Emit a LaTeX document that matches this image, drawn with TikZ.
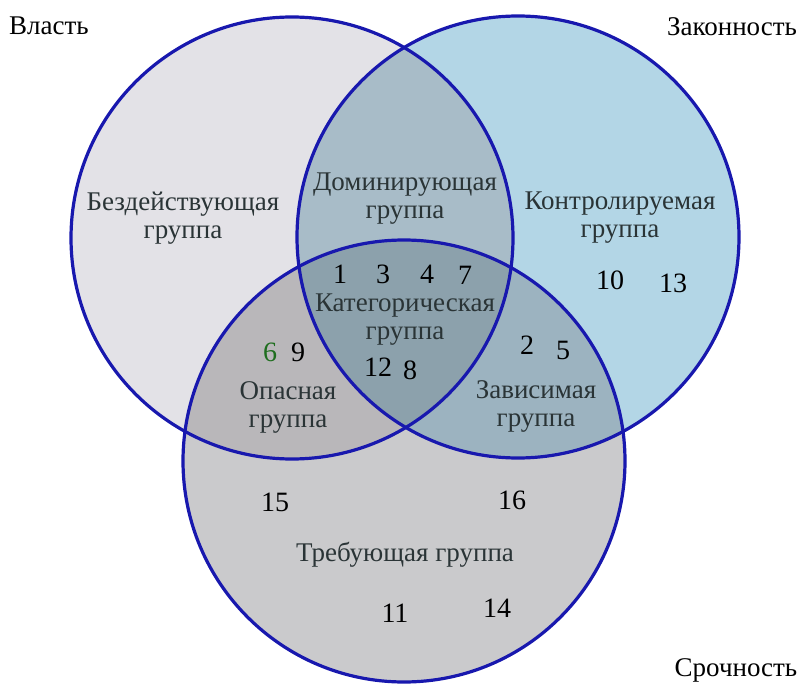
\documentclass[tikz,border=0pt]{standalone}
\usepackage{fontspec}
\setmainfont{Liberation Serif}
\definecolor{cL}{HTML}{E3E2E7}
\definecolor{cR}{HTML}{B3D6E6}
\definecolor{cB}{HTML}{CACACC}
\definecolor{cLR}{HTML}{A8BCC8}
\definecolor{cLB}{HTML}{B9B7BA}
\definecolor{cRB}{HTML}{9CB3C0}
\definecolor{cLRB}{HTML}{8CA1AC}
\definecolor{edge}{HTML}{1818AE}
\definecolor{lbl}{HTML}{2A3436}
\definecolor{grn}{HTML}{1F6E1F}
\tikzset{
  grp/.style={text=lbl, align=center, font=\rmfamily\fontsize{27}{28}\selectfont, inner sep=0pt},
  num/.style={text=black, font=\rmfamily\fontsize{28}{30}\selectfont, inner sep=0pt},
  ttl/.style={text=black, font=\rmfamily\fontsize{27}{29}\selectfont, inner sep=0pt},
  ring/.style={draw=edge, line width=3.2pt}
}
\def\cLeft{(292,238) circle[radius=221]}
\def\cRight{(518,237) circle[radius=221]}
\def\cBot{(404,461) circle[radius=221]}
\begin{document}
\begin{tikzpicture}[x=1pt,y=-1pt]
\useasboundingbox (0,0) rectangle (801,687);
\fill[white] (0,0) rectangle (801,687);
% single regions
\fill[cL] \cLeft;
\fill[cR] \cRight;
\fill[cB] \cBot;
% pairwise
\begin{scope}\clip \cLeft; \fill[cLR] \cRight; \end{scope}
\begin{scope}\clip \cLeft; \fill[cLB] \cBot; \end{scope}
\begin{scope}\clip \cRight; \fill[cRB] \cBot; \end{scope}
% triple
\begin{scope}\clip \cLeft; \clip \cRight; \fill[cLRB] \cBot; \end{scope}
% outlines
\draw[ring] \cLeft;
\draw[ring] \cRight;
\draw[ring] \cBot;
% titles
\node[ttl] (vlast) at (49,26) {Власть};
\node[ttl] (zak) at (732,27) {Законность};
\node[ttl] (sroch) at (736,670) {Срочность};
% group labels
\node[grp] (bezd) at (183,218) {Бездействующая\\группа};
\node[grp] (dom) at (405,199) {Доминирующая\\группа};
\node[grp] (kontr) at (620,218) {Контролируемая\\группа};
\node[grp] (kat) at (405,320) {Категорическая\\группа};
\node[grp] (opas) at (288,407) {Опасная\\группа};
\node[grp] (zav) at (536,406) {Зависимая\\группа};
\node[grp] (treb) at (405,555) {Требующая группа};
% numbers
\node[num] (n1) at (340,274) {1};
\node[num] (n3) at (383,274) {3};
\node[num] (n4) at (427,274) {4};
\node[num] (n7) at (465,275) {7};
\node[num,text=grn] (n6) at (270,352) {6};
\node[num] (n9) at (298,352) {9};
\node[num] (n12) at (378,367) {12};
\node[num] (n8) at (410,370) {8};
\node[num] (n10) at (610,280) {10};
\node[num] (n13) at (673,283) {13};
\node[num] (n2) at (527,345) {2};
\node[num] (n5) at (563,350) {5};
\node[num] (n15) at (275,502) {15};
\node[num] (n16) at (512,500) {16};
\node[num] (n11) at (395,613) {11};
\node[num] (n14) at (497,608) {14};
\end{tikzpicture}
\end{document}
